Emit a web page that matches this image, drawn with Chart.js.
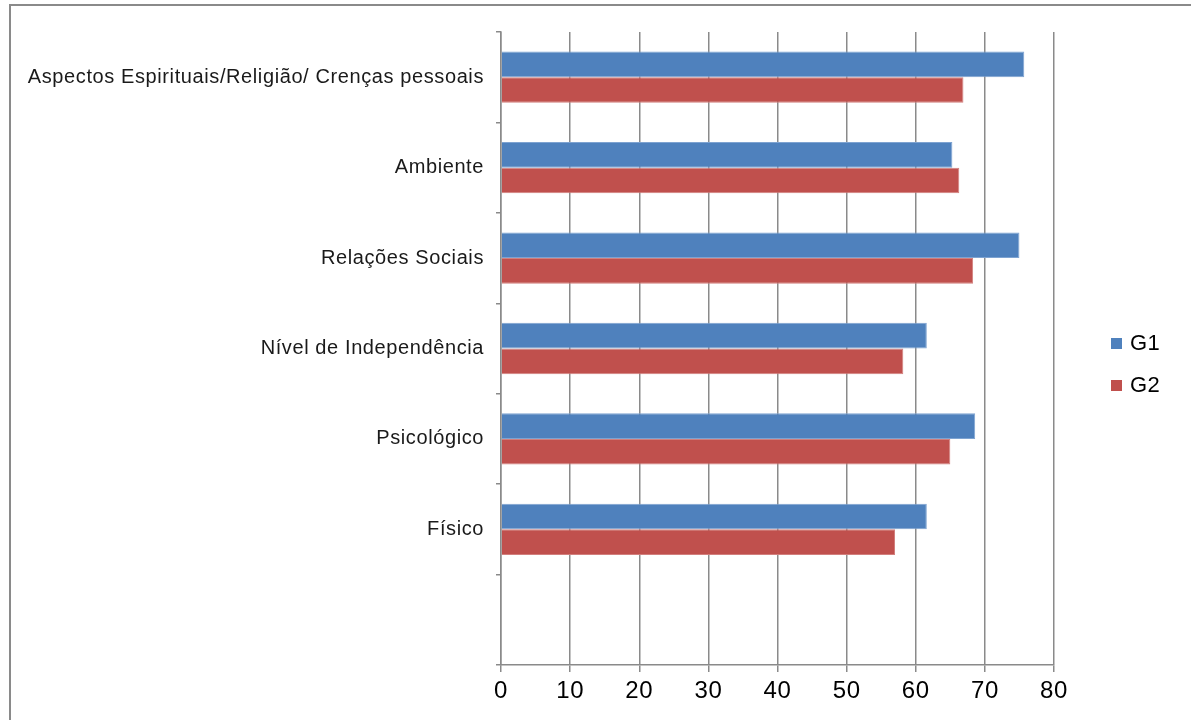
<!DOCTYPE html>
<html>
<head>
<meta charset="utf-8">
<script src="https://cdn.jsdelivr.net/npm/chart.js@4/dist/chart.umd.min.js"></script>
<style>
  body { margin: 0; background: #fff; }
  #wrap { position: relative; width: 1191px; height: 720px; overflow: hidden; }
  #frame {
    position: absolute; left: 9px; top: 4px; width: 1300px; height: 800px;
    border-left: 2px solid #8a8a8a; border-top: 2px solid #8a8a8a;
  }
  #chart { position: absolute; left: 0; top: 0; }
  #legend {
    position: absolute; left: 1111px; top: 328px;
    font-family: "Liberation Sans", Arial, sans-serif; font-size: 22px; color: #000;
    letter-spacing: 0.5px;
  }
  .item { display: flex; align-items: center; height: 30px; margin-bottom: 12px; }
  .box { width: 11px; height: 11px; margin-right: 8px; }
</style>
</head>
<body>
<div id="wrap">
  <div id="frame"></div>
  <canvas id="chart" width="1191" height="720"></canvas>
  <div id="legend"></div>
</div>
<script>
// categories top to bottom (last one is the empty slot at the bottom)
const categories = [
  "Aspectos Espirituais/Religião/ Crenças pessoais",
  "Ambiente",
  "Relações Sociais",
  "Nível de Independência",
  "Psicológico",
  "Físico",
  ""
];
const g1Values = [75.7, 65.3, 75.0, 61.6, 68.6, 61.6, null];
const g2Values = [66.9, 66.3, 68.3, 58.2, 65.0, 57.0, null];
const xTicks = [0, 10, 20, 30, 40, 50, 60, 70, 80];

const seriesNames = ["G1", "G2"];
const seriesColors = ["#4f81bd", "#c0504d"];
const seriesBorders = ["#7ea3d1", "#d27f7d"];

const font = "'Liberation Sans', Arial, sans-serif";

// the reference text is a bit wider than plain Arial
const spacingPlugin = {
  id: "spacing",
  beforeDraw(chart) { chart.ctx.letterSpacing = "0.6px"; }
};

new Chart(document.getElementById("chart"), {
  type: "bar",
  data: {
    labels: categories,
    datasets: [
      { label: seriesNames[0], data: g1Values, backgroundColor: seriesColors[0],
        borderColor: seriesBorders[0], borderWidth: 1, borderSkipped: "start" },
      { label: seriesNames[1], data: g2Values, backgroundColor: seriesColors[1],
        borderColor: seriesBorders[1], borderWidth: 1, borderSkipped: "start" }
    ]
  },
  plugins: [spacingPlugin],
  options: {
    indexAxis: "y",
    responsive: false,
    animation: false,
    categoryPercentage: 0.567,
    barPercentage: 1,
    layout: { padding: { top: 32, right: 137, left: 0, bottom: 0 } },
    plugins: { legend: { display: false }, tooltip: { enabled: false } },
    scales: {
      x: {
        min: 0, max: 80,
        afterBuildTicks: (scale) => { scale.ticks = xTicks.map((v) => ({ value: v })); },
        afterFit: (scale) => { scale.height = 55; },
        grid: { color: "#8a8a8a", lineWidth: 1.5, tickLength: 7, drawTicks: true },
        border: { color: "#8a8a8a", width: 1.5 },
        ticks: { color: "#000", font: { family: font, size: 24 }, padding: 5 }
      },
      y: {
        afterFit: (scale) => { scale.width = 501; },
        grid: { drawOnChartArea: false, drawTicks: true, tickLength: 5, color: "#8a8a8a", lineWidth: 1.5 },
        border: { color: "#8a8a8a", width: 1.5 },
        ticks: { color: "#1a1a1a", font: { family: font, size: 20 }, padding: 12 }
      }
    }
  }
});

// legend on the right
const legend = document.getElementById("legend");
seriesNames.forEach((name, i) => {
  const item = document.createElement("div");
  item.className = "item";
  item.innerHTML = `<span class="box" style="background:${seriesColors[i]}"></span>${name}`;
  legend.appendChild(item);
});
</script>
</body>
</html>
